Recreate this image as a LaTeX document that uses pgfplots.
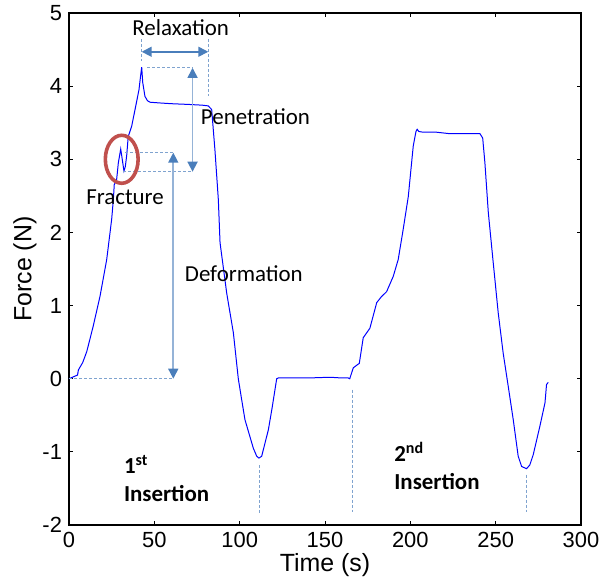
\documentclass[border=0pt]{standalone}
\usepackage{fontspec}
\setmainfont{Liberation Sans}
\newfontfamily\calib{Carlito}
\usepackage{pgfplots}
\pgfplotsset{compat=1.18}
\usetikzlibrary{arrows.meta,calc}

\definecolor{curvecol}{RGB}{0,0,255}
\definecolor{arrcol}{HTML}{4A7EBB}
\definecolor{shaftcol}{HTML}{95B3D7}
\definecolor{guidecol}{HTML}{7FA3CF}
\definecolor{ringcol}{HTML}{C0504D}

\tikzset{guide/.style={guidecol, dash pattern=on 1.5bp off 1bp, line width=0.6pt}}

\begin{document}
\begin{tikzpicture}
\begin{axis}[
    scale only axis,
    width=256bp, height=256bp,
    xmin=0, xmax=300, ymin=-2, ymax=5,
    xtick={0,50,...,300}, ytick={-2,-1,...,5},
    tick align=inside, major tick length=2bp,
    axis line style={line width=0.6pt},
    every tick/.style={black, line width=0.5pt},
    /pgf/number format/assume math mode=true,
    ticklabel style={font=\fontsize{11}{13}\selectfont},
    label style={font=\fontsize{12.5}{15}\selectfont},
    xlabel={Time (s)}, ylabel={Force (N)},
    xlabel style={at={(axis description cs:0.5,-0.078)}, anchor=center},
    ylabel style={at={(axis description cs:-0.086,0.5)}, anchor=center},
    clip=false,
]
\addplot[curvecol, line width=0.5pt] coordinates {
 (0,0.00) (2,0.02) (5,0.05) (5.5,0.12) (8,0.22) (10.4,0.37) (14.2,0.72) (18.2,1.13)
 (22.1,1.63) (25,2.18) (26,2.45) (26.5,2.65) (27.9,2.72) (28.9,2.95) (30.3,3.14)
 (31.2,3.00) (32.2,2.84) (33.0,2.90) (33.8,3.05) (34.7,3.31) (36.7,3.45) (38.7,3.68)
 (41,3.95) (42.0,4.15) (42.6,4.26) (43.2,4.05) (44.5,3.86) (46,3.80) (47.5,3.78)
 (53.3,3.77) (60,3.76) (70,3.75) (78,3.74) (81.6,3.73) (83.6,3.68) (85.5,3.13)
 (87.5,2.45) (88.5,1.86) (92.4,1.17) (96.3,0.63) (99.2,0.00) (101.2,-0.29)
 (103.1,-0.56) (108,-0.95) (110,-1.06) (111.3,-1.085) (112.9,-1.06) (116.8,-0.70)
 (119,-0.40) (121.7,0.00) (122.6,0.01) (130,0.01) (140,0.01) (152.9,0.02)
 (160,0.01) (163.6,0.01) (164.5,0.00) (166.6,0.15) (170.1,0.21) (172.4,0.56)
 (176.3,0.69) (180.3,1.04) (183,1.12) (186.1,1.19) (190,1.40) (192.9,1.63)
 (195.8,2.04) (198.8,2.49) (201.7,3.18) (203.3,3.38) (204,3.41) (205,3.38)
 (207.6,3.37) (215.4,3.37) (223.2,3.35) (240.8,3.35) (242.4,3.29) (243.7,2.95)
 (245.7,2.27) (248.6,1.58) (251.5,0.90) (254.4,0.35) (257.4,-0.11) (260.3,-0.56)
 (263.2,-1.06) (265.2,-1.20) (268.1,-1.23) (270,-1.18) (272,-1.04) (275.9,-0.65)
 (278.9,-0.33) (279.8,-0.08) (280.8,-0.05)
};

% dashed guide lines
\draw[guide] (axis cs:42.6,4.64) -- (axis cs:42.6,4.34);
\draw[guide] (axis cs:81.6,4.64) -- (axis cs:81.6,3.86);
\draw[guide] (axis cs:45.9,4.25) -- (axis cs:72.4,4.25);
\draw[guide] (axis cs:31.8,2.83) -- (axis cs:72.4,2.83);
\draw[guide] (axis cs:32.8,3.09) -- (axis cs:61.1,3.09);
\draw[guide] (axis cs:0,0) -- (axis cs:61.1,0);
\draw[guide] (axis cs:111.7,-1.18) -- (axis cs:111.7,-1.84);
\draw[guide] (axis cs:166.2,-0.15) -- (axis cs:166.2,-1.82);
\draw[guide] (axis cs:268.1,-1.31) -- (axis cs:268.1,-1.82);

% arrows
\draw[arrcol, line width=0.8pt, {Triangle[length=5bp,width=5bp]}-{Triangle[length=5bp,width=5bp]}]
  (axis cs:42.6,4.47) -- (axis cs:81.6,4.47);
\draw[shaftcol, line width=0.8pt, {Triangle[length=5bp,width=5bp,color=arrcol]}-{Triangle[length=5bp,width=5bp,color=arrcol]}]
  (axis cs:72.4,4.25) -- (axis cs:72.4,2.83);
\draw[shaftcol, line width=0.8pt, {Triangle[length=5bp,width=5bp,color=arrcol]}-{Triangle[length=5bp,width=5bp,color=arrcol]}]
  (axis cs:61.1,3.09) -- (axis cs:61.1,0);

% fracture ring
\draw[ringcol, line width=1.8pt] (axis cs:30.9,3.0) ellipse [x radius=8.2bp, y radius=12bp];

% labels
\node[font=\calib\fontsize{11.5}{14}\selectfont] at (axis cs:65.4,4.80) {Relaxation};
\node[font=\calib\fontsize{11.5}{14}\selectfont, anchor=west] at (axis cs:73.2,3.58) {Penetration};
\node[font=\calib\fontsize{11.5}{14}\selectfont, anchor=west] at (axis cs:6.0,2.48) {Fracture};
\node[font=\calib\fontsize{11.5}{14}\selectfont, anchor=west] at (axis cs:63.8,1.44) {Deformation};
\node[font=\calib\bfseries\fontsize{11.5}{14}\selectfont, anchor=north west, align=left, inner sep=0pt]
  at (axis cs:32.0,-1.04) {1\textsuperscript{st}\\Insertion};
\node[font=\calib\bfseries\fontsize{11.5}{14}\selectfont, anchor=north west, align=left, inner sep=0pt]
  at (axis cs:190.4,-0.86) {2\textsuperscript{nd}\\Insertion};
\end{axis}
\pgfresetboundingbox
\path[use as bounding box] ($(current axis.south west)+(-34.5bp,-29bp)$) rectangle ($(current axis.south west)+(267bp,262.5bp)$);
\end{tikzpicture}
\end{document}
